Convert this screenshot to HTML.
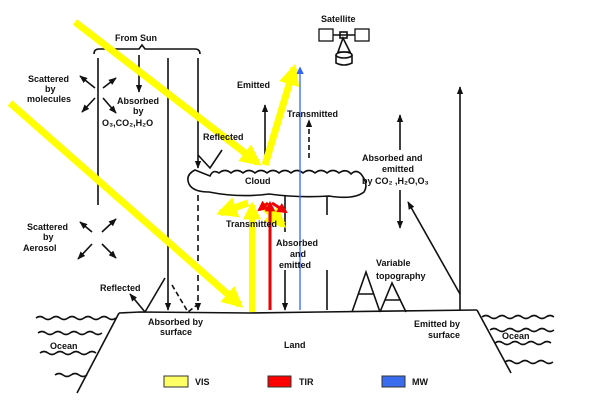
<!DOCTYPE html>
<html><head><style>
body{margin:0;background:#fff;width:600px;height:403px;overflow:hidden}
text{font-family:"Liberation Sans",sans-serif;font-size:9px;fill:#111;font-weight:bold}
</style></head><body>
<svg width="600" height="403" viewBox="0 0 600 403" xmlns="http://www.w3.org/2000/svg">
<defs>
<marker id="a" viewBox="0 0 10 10" refX="9" refY="5" markerWidth="5" markerHeight="5" orient="auto-start-reverse"><path d="M0,1L10,5L0,9z" fill="#111"/></marker>
<marker id="y" viewBox="0 0 10 10" refX="8" refY="5" markerWidth="3" markerHeight="3" orient="auto"><path d="M0,0L10,5L0,10z" fill="#ff0"/></marker>
<marker id="r" viewBox="0 0 10 10" refX="8" refY="5" markerWidth="3.5" markerHeight="3.5" orient="auto"><path d="M0,0L10,5L0,10z" fill="#e00"/></marker>
<marker id="b" viewBox="0 0 10 10" refX="8" refY="5" markerWidth="6" markerHeight="6" orient="auto"><path d="M0,0L10,5L0,10z" fill="#36f"/></marker>
</defs>
<g stroke="#111" stroke-width="1.6" fill="none">
<path d="M94,54 q0,-5 5,-5 h40 l3,-4 l3,4 h50 q5,0 5,5"/>
<line x1="98" y1="58" x2="98" y2="205"/>
<line x1="139" y1="55" x2="139" y2="92" marker-end="url(#a)"/>
<line x1="168" y1="58" x2="168" y2="310" marker-end="url(#a)"/>
<line x1="198" y1="58" x2="198" y2="168" marker-end="url(#a)"/>
<line x1="198" y1="195" x2="198" y2="310" stroke-dasharray="6,4" marker-end="url(#a)"/>
<line x1="95" y1="88" x2="80" y2="76" marker-end="url(#a)"/>
<line x1="103" y1="88" x2="116" y2="78" marker-end="url(#a)"/>
<line x1="95" y1="98" x2="82" y2="112" marker-end="url(#a)"/>
<line x1="103" y1="98" x2="116" y2="113" marker-end="url(#a)"/>
<line x1="92" y1="232" x2="80" y2="222" marker-end="url(#a)"/>
<line x1="102" y1="232" x2="116" y2="219" marker-end="url(#a)"/>
<line x1="92" y1="244" x2="78" y2="259" marker-end="url(#a)"/>
<line x1="102" y1="244" x2="116" y2="258" marker-end="url(#a)"/>
<path d="M145,312 L165,278"/><line x1="145" y1="312" x2="130" y2="294" marker-end="url(#a)"/>
<path d="M198,155 L210,168 L222,150" />
<path d="M172,285 L188,312 L197,305" stroke-dasharray="5,3"/>
<line x1="265" y1="155" x2="265" y2="105" marker-end="url(#a)"/>
<line x1="309" y1="158" x2="309" y2="120" stroke-dasharray="5,3" marker-end="url(#a)"/>
<line x1="285" y1="195" x2="285" y2="232"/><line x1="285" y1="270" x2="285" y2="310" marker-end="url(#a)"/>
<line x1="327" y1="310" x2="327" y2="270"/><line x1="327" y1="215" x2="327" y2="190" marker-end="url(#a)"/>
<line x1="400" y1="150" x2="400" y2="115" marker-end="url(#a)"/>
<line x1="400" y1="190" x2="400" y2="228" marker-end="url(#a)"/>
<line x1="460" y1="310" x2="460" y2="87" marker-end="url(#a)"/>
<line x1="460" y1="294" x2="408" y2="202" marker-end="url(#a)"/>
<path d="M352,312 L366,272 L380,312 M358,294 h16 M380,312 L392,283 L406,312 M385,300 h16"/>
<path d="M119,313 L140,312 L250,313 L320,312 L477,310"/>
<path d="M119,313 L77,393"/>
<path d="M477,310 L511,373"/>
<path d="M36,318 q4,-3 8,0 t8,0 t8,0 t8,0 t8,0 t8,0 t8,0 t8,0 t8,0 t8,0"/>
<path d="M38,333 q4,-3 8,0 t8,0 t8,0 t8,0 t8,0 t8,0 t8,0 t8,0"/>
<path d="M40,353 q4,-3 8,0 t8,0 t8,0 t8,0 t8,0 t8,0 t8,0"/>
<path d="M55,375 q4,-3 8,0 t8,0 t8,0 t8,0"/>
<path d="M482,317 q4,-3 8,0 t8,0 t8,0 t8,0 t8,0 t8,0 t8,0 t8,0 t8,0"/>
<path d="M490,330 q4,-3 8,0 t8,0 t8,0 t8,0 t8,0 t8,0 t8,0 t8,0"/>
<path d="M495,343 q4,-3 8,0 t8,0 t8,0 t8,0 t8,0 t8,0 t8,0"/>
<path d="M505,362 q4,-3 8,0 t8,0 t8,0 t8,0 t8,0 t8,0"/>
<path d="M195,170 q-10,5 -6,14 q4,8 20,8 q30,6 60,2 q30,4 60,2 q25,4 35,-4 q5,-8 -3,-18 q-5,-5 -10,0 q-5,-6 -12,-1 q-6,-5 -12,0 q-6,-5 -12,0 q-6,-5 -12,0 q-6,-5 -12,0 q-6,-5 -12,0 q-6,-5 -12,0 q-6,-5 -12,0 q-6,-5 -12,0 q-6,-5 -12,0 q-6,-5 -12,0 q-6,-4 -9,3z" fill="#fff"/>
<rect x="319" y="29" width="14" height="12" stroke-width="1.3"/><rect x="355" y="29" width="14" height="12" stroke-width="1.3"/>
<line x1="333" y1="35" x2="355" y2="35"/><rect x="340" y="32" width="7" height="6"/>
<path d="M343,38 L338,52 L350,52 Z"/><ellipse cx="344" cy="55" rx="8" ry="3"/><path d="M336,55 v8 q8,4 16,0 v-8"/>
</g>
<line x1="300" y1="310" x2="300" y2="68" stroke="#36f" stroke-width="1.3" marker-end="url(#b)"/>
<g stroke="#ff0" stroke-width="7" fill="none">
<line x1="75" y1="22" x2="258" y2="163" marker-end="url(#y)"/>
<line x1="265" y1="165" x2="294" y2="68" marker-end="url(#y)"/>
<line x1="10" y1="103" x2="240" y2="305" marker-end="url(#y)"/>
<line x1="252" y1="312" x2="252" y2="205" stroke-width="6" marker-end="url(#y)"/>
<line x1="248" y1="203" x2="220" y2="213" marker-end="url(#y)"/>
<line x1="262" y1="205" x2="283" y2="225" marker-end="url(#y)"/>
</g>
<g stroke="#e00" stroke-width="3" fill="none">
<line x1="270" y1="310" x2="270" y2="203" marker-end="url(#r)"/>
<line x1="268" y1="203" x2="259" y2="210" marker-end="url(#r)"/>
<line x1="272" y1="203" x2="286" y2="212" marker-end="url(#r)"/>
</g>
<text x="115" y="41">From Sun</text>
<text x="321" y="22" font-size="8">Satellite</text>
<text x="28" y="82">Scattered</text><text x="45" y="92">by</text><text x="27" y="102">molecules</text>
<text x="117" y="104">Absorbed</text><text x="133" y="114">by</text><text x="102" y="126">O₃,CO₂,H₂O</text>
<text x="203" y="140">Reflected</text>
<text x="237" y="88">Emitted</text>
<text x="287" y="117">Transmitted</text>
<text x="245" y="184" font-size="10">Cloud</text>
<text x="226" y="227">Transmitted</text>
<text x="276" y="246">Absorbed</text><text x="290" y="257">and</text><text x="279" y="268">emitted</text>
<text x="362" y="161">Absorbed and</text><text x="382" y="172">emitted</text><text x="362" y="184">by CO₂ ,H₂O,O₃</text>
<text x="27" y="230">Scattered</text><text x="43" y="240">by</text><text x="23" y="251">Aerosol</text>
<text x="100" y="291">Reflected</text>
<text x="148" y="325">Absorbed by</text><text x="160" y="335">surface</text>
<text x="376" y="266">Variable</text><text x="376" y="279">topography</text>
<text x="50" y="349">Ocean</text>
<text x="284" y="348">Land</text>
<text x="414" y="327">Emitted by</text><text x="428" y="338">surface</text>
<text x="502" y="339">Ocean</text>
<rect x="164" y="376" width="24" height="11" fill="#ffff66" stroke="#333"/>
<rect x="268" y="376" width="23" height="11" fill="#f00" stroke="#333"/>
<rect x="382" y="376" width="23" height="11" fill="#3a6cf0" stroke="#333"/>
<text x="195" y="385" font-size="15">VIS</text>
<text x="299" y="385" font-size="15">TIR</text>
<text x="412" y="385" font-size="15">MW</text>
</svg>
</body></html>
